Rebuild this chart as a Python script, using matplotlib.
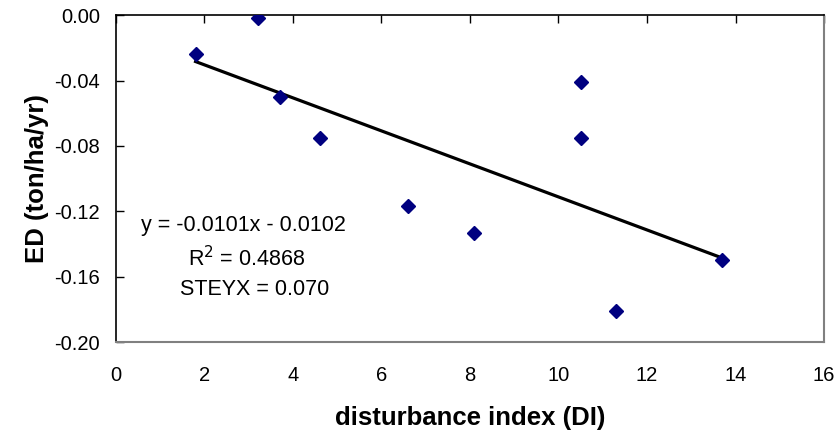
import numpy as np
import matplotlib.pyplot as plt

plt.rcParams['font.family'] = ['Liberation Sans', 'DejaVu Sans']

# disturbance index vs ED
di = [1.8, 3.2, 3.7, 4.6, 6.6, 8.1, 10.5, 10.5, 11.3, 13.7]
ed = [-0.024, -0.002, -0.050, -0.075, -0.117, -0.133, -0.041, -0.075, -0.181, -0.150]

slope = -0.0101
intercept = -0.0102
x_ticks = [0, 2, 4, 6, 8, 10, 12, 14, 16]
y_ticks = [0.00, -0.04, -0.08, -0.12, -0.16, -0.20]
y_labels = ['0.00', '-0.04', '-0.08', '-0.12', '-0.16', '-0.20']

fig = plt.figure(figsize=(8.4, 4.33), dpi=100)
ax = fig.add_axes([0.138, 0.21, 0.843, 0.755])

# trend line over data range
xl = np.array([min(di), max(di)])
ax.plot(xl, slope * xl + intercept, color='black', lw=2.3, zorder=2)
ax.plot(di, ed, 'D', color='#000080', markersize=7, zorder=3)

ax.set_xlim(0, 16)
ax.set_ylim(-0.20, 0.00)
ax.set_xticks(x_ticks)
ax.set_yticks(y_ticks)
ax.set_yticklabels(y_labels)

# x axis crosses at y=0 (top), labels stay at bottom
ax.tick_params(axis='x', top=True, bottom=False, labeltop=False,
               labelbottom=True, direction='in', length=6, width=1,
               labelsize=14.5, pad=17)
ax.tick_params(axis='y', direction='in', length=6, width=1,
               labelsize=14.5, pad=11.5)

for s in ['top', 'left']:
    ax.spines[s].set_color('black')
    ax.spines[s].set_linewidth(1.2)
for s in ['right', 'bottom']:
    ax.spines[s].set_color('#808080')
    ax.spines[s].set_linewidth(1.5)

ax.set_xlabel('disturbance index (DI)', fontsize=18.5, fontweight='bold', labelpad=15)
ax.set_ylabel('ED (ton/ha/yr)', fontsize=18.5, fontweight='bold', labelpad=4)

ax.text(0.56, -0.1285, 'y = -0.0101x - 0.0102', fontsize=15.5, va='center')
ax.text(1.62, -0.149, 'R$^2$ = 0.4868', fontsize=15.5, va='center')
ax.text(1.45, -0.168, 'STEYX = 0.070', fontsize=15.5, va='center')

plt.savefig('out.png', dpi=100)
